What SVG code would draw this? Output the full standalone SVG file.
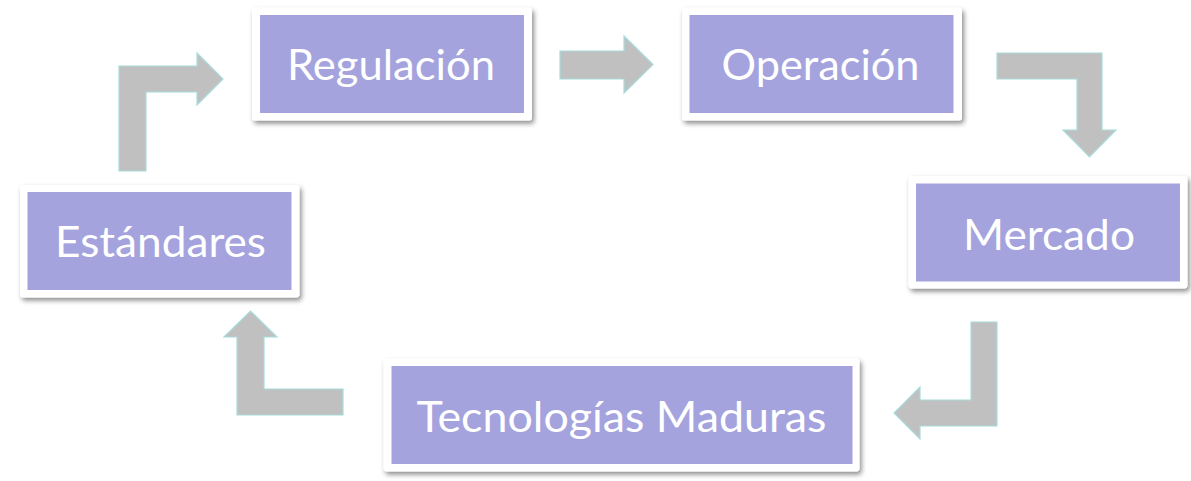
<svg xmlns="http://www.w3.org/2000/svg" width="1191" height="481" viewBox="0 0 1191 481">
<style>
.frame{fill:#ffffff;filter:url(#sh)}
.inner{fill:#a4a3de}
.lbl{fill:#ffffff;font-family:Lato,"Liberation Sans",sans-serif;font-size:42px;text-anchor:middle}
.arr{fill:#c0c0c0;stroke:#a8dcdc;stroke-width:1.2;stroke-linejoin:miter}
</style>
<defs>
<filter id="sh" x="-10%" y="-20%" width="120%" height="140%">
<feDropShadow dx="2" dy="3" stdDeviation="2.5" flood-color="#000000" flood-opacity="0.45"/>
</filter>
</defs>
<rect width="1191" height="481" fill="#ffffff"/>
<g id="connectors">
<path class="arr" d="M119,171 L119,66 L197,66 L197,53 L223,79 L197,105 L197,92 L146,92 L146,171 Z"/>
<path class="arr" d="M560,51 L624,51 L624,36 L653,64.5 L624,93 L624,79 L560,79 Z"/>
<path class="arr" d="M997,53 L1102,53 L1102,130 L1116,130 L1089.5,157 L1063,130 L1077,130 L1077,79 L997,79 Z"/>
<path class="arr" d="M971,322 L997,322 L997,426 L920,426 L920,439 L894,413 L920,387 L920,400 L971,400 Z"/>
<path class="arr" d="M237,415 L343,415 L343,389 L264,389 L264,337 L277,337 L250.5,311 L224,337 L237,337 Z"/>
</g>
<g id="regulacion">
<rect class="frame" x="252" y="7.5" width="280" height="113" rx="3"/>
<rect class="inner" x="260" y="15" width="264" height="98"/>
<text class="lbl" x="391" y="80" textLength="208" lengthAdjust="spacingAndGlyphs">Regulación</text>
</g>
<g id="operacion">
<rect class="frame" x="682" y="7.5" width="280" height="113" rx="3"/>
<rect class="inner" x="689.5" y="15" width="264" height="98"/>
<text class="lbl" x="820.5" y="80" textLength="198" lengthAdjust="spacingAndGlyphs">Operación</text>
</g>
<g id="mercado">
<rect class="frame" x="908.5" y="176" width="279" height="112.5" rx="3"/>
<rect class="inner" x="916" y="183.5" width="264" height="98"/>
<text class="lbl" x="1049" y="249.5" textLength="172" lengthAdjust="spacingAndGlyphs">Mercado</text>
</g>
<g id="estandares">
<rect class="frame" x="20" y="185" width="279.5" height="112.5" rx="3"/>
<rect class="inner" x="27.5" y="192" width="264" height="98"/>
<text class="lbl" x="160.5" y="257" textLength="211" lengthAdjust="spacingAndGlyphs">Estándares</text>
</g>
<g id="tecnologias">
<rect class="frame" x="383.5" y="358.5" width="476" height="113" rx="3"/>
<rect class="inner" x="391.5" y="366" width="461" height="98"/>
<text class="lbl" x="621.5" y="432" textLength="410" lengthAdjust="spacingAndGlyphs">Tecnologías Maduras</text>
</g>
</svg>
